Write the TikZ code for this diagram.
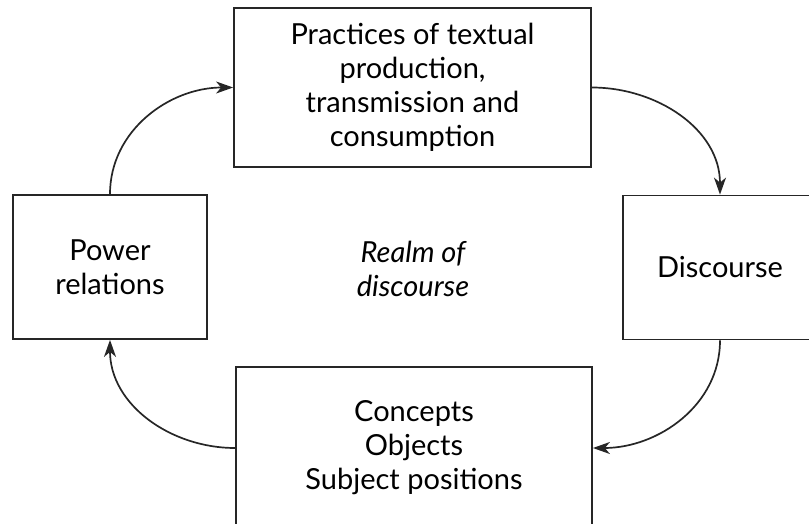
\documentclass[tikz,border=0pt]{standalone}
\usepackage{fontspec}
\setmainfont{Lato}
\usepackage{tikz}
\usetikzlibrary{arrows.meta, positioning}

\tikzset{
  boxnode/.style={draw=black!85, line width=1.8pt, align=center,
    inner sep=0pt, font=\fontsize{29}{34}\selectfont},
  flowarrow/.style={-{Stealth[length=17pt,width=12pt,inset=5pt]}, line width=1.7pt, black!85}
}

\begin{document}
\begin{tikzpicture}[x=1pt, y=-1pt]

  % --- Area ---
  \useasboundingbox (0,0) rectangle (809,524);

  % --- Riquadri ---
  \node[boxnode, minimum width=357pt, minimum height=159pt] (pratiche)
    at (412.5,87.5) {Practices of textual\\production,\\transmission and\\consumption};
  \node[boxnode, minimum width=194pt, minimum height=144pt] (potere)
    at (110,267) {Power\\relations};
  \node[boxnode, minimum width=194pt, minimum height=144pt] (discorso)
    at (720,267.5) {Discourse};
  \node[boxnode, minimum width=356pt, minimum height=162pt] (concetti)
    at (414,448) {Concepts\\Objects\\Subject positions};

  % --- Testo centrale ---
  \node[align=center, font=\fontsize{29}{34}\selectfont\itshape] (regno)
    at (413,269) {Realm of\\discourse};

  % --- Frecce del ciclo ---
  \draw[flowarrow] (potere.north) to[out=90, in=180] (pratiche.west);
  \draw[flowarrow] (pratiche.east) to[out=0, in=90] (discorso.north);
  \draw[flowarrow] (discorso.south) to[out=-90, in=0] (concetti.east);
  \draw[flowarrow] (concetti.west) to[out=180, in=-90] (potere.south);

\end{tikzpicture}
\end{document}
